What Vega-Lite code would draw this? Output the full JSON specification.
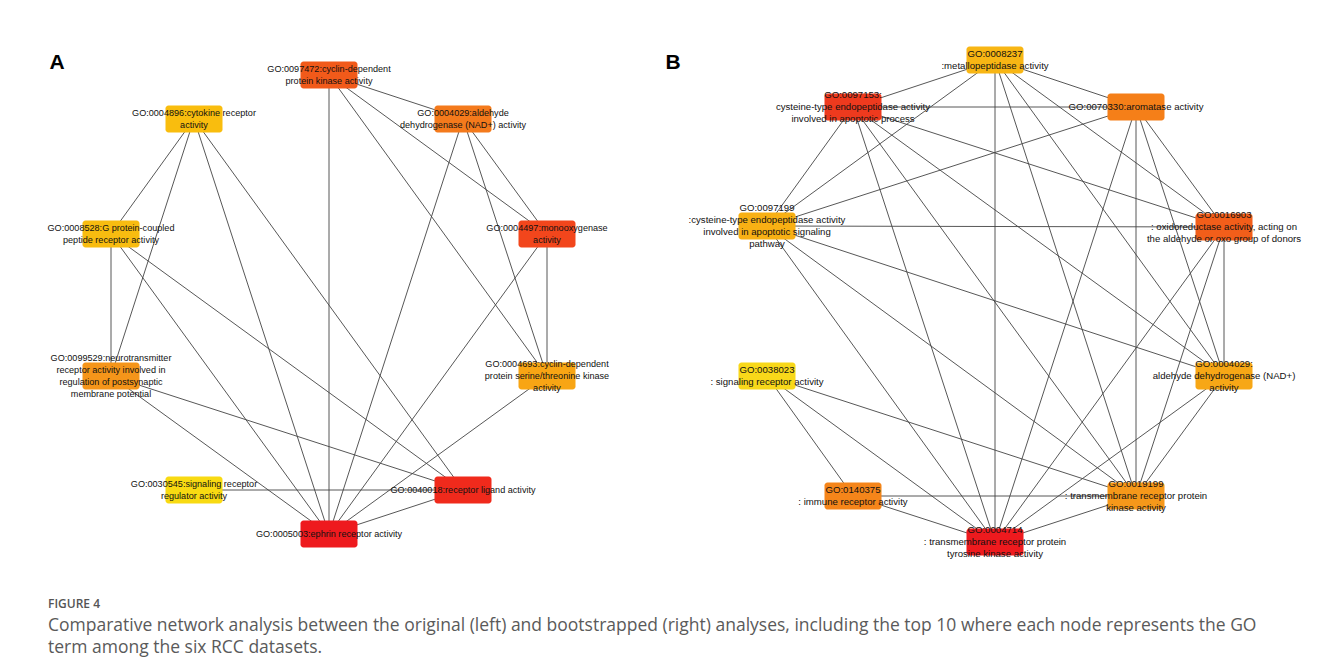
{
  "$schema": "https://vega.github.io/schema/vega-lite/v6.json",
  "width": 1320,
  "height": 671,
  "autosize": {"type": "fit", "contains": "padding"},
  "padding": 0,
  "background": "white",
  "config": {"view": {"stroke": null}},
  "datasets": {
    "nodes": [
      {"id": "A-0097472", "panel": "A", "x": 329, "y": 75, "label": "GO:0097472:cyclin-dependent\nprotein kinase activity"},
      {"id": "A-0004896", "panel": "A", "x": 194, "y": 119, "label": "GO:0004896:cytokine receptor\nactivity"},
      {"id": "A-0004029", "panel": "A", "x": 463, "y": 119, "label": "GO:0004029:aldehyde\ndehydrogenase (NAD+) activity"},
      {"id": "A-0008528", "panel": "A", "x": 111, "y": 234, "label": "GO:0008528:G protein-coupled\npeptide receptor activity"},
      {"id": "A-0004497", "panel": "A", "x": 547, "y": 234, "label": "GO:0004497:monooxygenase\nactivity"},
      {"id": "A-0099529", "panel": "A", "x": 111, "y": 376, "label": "GO:0099529:neurotransmitter\nreceptor activity involved in\nregulation of postsynaptic\nmembrane potential"},
      {"id": "A-0004693", "panel": "A", "x": 547, "y": 376, "label": "GO:0004693:cyclin-dependent\nprotein serine/threonine kinase\nactivity"},
      {"id": "A-0030545", "panel": "A", "x": 194, "y": 490, "label": "GO:0030545:signaling receptor\nregulator activity"},
      {"id": "A-0040018", "panel": "A", "x": 463, "y": 490, "label": "GO:0040018:receptor ligand activity"},
      {"id": "A-0005003", "panel": "A", "x": 329, "y": 534, "label": "GO:0005003:ephrin receptor activity"},
      {"id": "B-0008237", "panel": "B", "x": 995, "y": 60, "label": "GO:0008237\n:metallopeptidase activity"},
      {"id": "B-0097153", "panel": "B", "x": 853, "y": 107, "label": "GO:0097153:\ncysteine-type endopeptidase activity\ninvolved in apoptotic process"},
      {"id": "B-0070330", "panel": "B", "x": 1136, "y": 107, "label": "GO:0070330:aromatase activity"},
      {"id": "B-0097199", "panel": "B", "x": 767, "y": 226, "label": "GO:0097199\n:cysteine-type endopeptidase activity\ninvolved in apoptotic signaling\npathway"},
      {"id": "B-0016903", "panel": "B", "x": 1224, "y": 227, "label": "GO:0016903\n: oxidoreductase activity, acting on\nthe aldehyde or oxo group of donors"},
      {"id": "B-0038023", "panel": "B", "x": 767, "y": 376, "label": "GO:0038023\n: signaling receptor activity"},
      {"id": "B-0004029", "panel": "B", "x": 1224, "y": 376, "label": "GO:0004029:\naldehyde dehydrogenase (NAD+)\nactivity"},
      {"id": "B-0140375", "panel": "B", "x": 853, "y": 496, "label": "GO:0140375\n: immune receptor activity"},
      {"id": "B-0019199", "panel": "B", "x": 1136, "y": 496, "label": "GO:0019199\n: transmembrane receptor protein\nkinase activity"},
      {"id": "B-0004714", "panel": "B", "x": 995, "y": 542, "label": "GO:0004714\n: transmembrane receptor protein\ntyrosine kinase activity"}
    ],
    "edges": [
      {"s": "A-0097472", "t": "A-0004029"},
      {"s": "A-0097472", "t": "A-0005003"},
      {"s": "A-0097472", "t": "A-0004693"},
      {"s": "A-0097472", "t": "A-0004497"},
      {"s": "A-0004896", "t": "A-0008528"},
      {"s": "A-0004896", "t": "A-0099529"},
      {"s": "A-0004896", "t": "A-0005003"},
      {"s": "A-0004896", "t": "A-0040018"},
      {"s": "A-0004029", "t": "A-0005003"},
      {"s": "A-0004029", "t": "A-0004693"},
      {"s": "A-0004029", "t": "A-0004497"},
      {"s": "A-0008528", "t": "A-0099529"},
      {"s": "A-0008528", "t": "A-0005003"},
      {"s": "A-0008528", "t": "A-0040018"},
      {"s": "A-0004497", "t": "A-0004693"},
      {"s": "A-0004497", "t": "A-0005003"},
      {"s": "A-0099529", "t": "A-0040018"},
      {"s": "A-0099529", "t": "A-0005003"},
      {"s": "A-0004693", "t": "A-0005003"},
      {"s": "A-0030545", "t": "A-0040018"},
      {"s": "A-0040018", "t": "A-0005003"},
      {"s": "B-0008237", "t": "B-0097153"},
      {"s": "B-0008237", "t": "B-0070330"},
      {"s": "B-0008237", "t": "B-0097199"},
      {"s": "B-0008237", "t": "B-0016903"},
      {"s": "B-0008237", "t": "B-0004029"},
      {"s": "B-0008237", "t": "B-0019199"},
      {"s": "B-0008237", "t": "B-0004714"},
      {"s": "B-0097153", "t": "B-0070330"},
      {"s": "B-0097153", "t": "B-0097199"},
      {"s": "B-0097153", "t": "B-0016903"},
      {"s": "B-0097153", "t": "B-0004029"},
      {"s": "B-0097153", "t": "B-0019199"},
      {"s": "B-0097153", "t": "B-0004714"},
      {"s": "B-0070330", "t": "B-0097199"},
      {"s": "B-0070330", "t": "B-0016903"},
      {"s": "B-0070330", "t": "B-0004029"},
      {"s": "B-0070330", "t": "B-0019199"},
      {"s": "B-0070330", "t": "B-0004714"},
      {"s": "B-0097199", "t": "B-0016903"},
      {"s": "B-0097199", "t": "B-0004029"},
      {"s": "B-0097199", "t": "B-0019199"},
      {"s": "B-0097199", "t": "B-0004714"},
      {"s": "B-0016903", "t": "B-0004029"},
      {"s": "B-0016903", "t": "B-0019199"},
      {"s": "B-0016903", "t": "B-0004714"},
      {"s": "B-0004029", "t": "B-0019199"},
      {"s": "B-0004029", "t": "B-0004714"},
      {"s": "B-0019199", "t": "B-0004714"},
      {"s": "B-0038023", "t": "B-0140375"},
      {"s": "B-0038023", "t": "B-0004714"},
      {"s": "B-0038023", "t": "B-0019199"},
      {"s": "B-0140375", "t": "B-0019199"},
      {"s": "B-0140375", "t": "B-0004714"}
    ],
    "letters": [
      {"letter": "A", "x": 57, "y": 63},
      {"letter": "B", "x": 673, "y": 63}
    ],
    "caption": [
      {"line": "Comparative network analysis between the original (left) and bootstrapped (right) analyses, including the top 10 where each node represents the GO", "x": 48, "y": 626},
      {"line": "term among the six RCC datasets.", "x": 48, "y": 648}
    ],
    "title": [
      {"line": "FIGURE 4", "x": 48, "y": 604}
    ]
  },
  "encoding": {
    "x": {"type": "quantitative", "scale": {"domain": [0, 1320], "nice": false, "zero": false}, "axis": null},
    "y": {"type": "quantitative", "scale": {"domain": [0, 671], "nice": false, "zero": false, "reverse": true}, "axis": null}
  },
  "layer": [
    {
      "mark": {"type": "rule", "color": "#d4d4d4", "strokeWidth": 1.5},
      "encoding": {"x": {"datum": 8.5}, "x2": {"datum": 1320}, "y": {"datum": 10}}
    },
    {
      "mark": {"type": "rule", "color": "#d4d4d4", "strokeWidth": 1.5},
      "encoding": {"x": {"datum": 8.5}, "y": {"datum": 10}, "y2": {"datum": 671}}
    },
    {
      "data": {"name": "edges"},
      "transform": [
        {"lookup": "s", "from": {"data": {"name": "nodes"}, "key": "id", "fields": ["x", "y"]}, "as": ["sx", "sy"]},
        {"lookup": "t", "from": {"data": {"name": "nodes"}, "key": "id", "fields": ["x", "y"]}, "as": ["tx", "ty"]}
      ],
      "mark": {"type": "rule", "color": "#444444", "strokeWidth": 0.9},
      "encoding": {
        "x": {"field": "sx", "type": "quantitative"},
        "y": {"field": "sy", "type": "quantitative"},
        "x2": {"field": "tx"},
        "y2": {"field": "ty"}
      }
    },
    {
      "data": {"name": "nodes"},
      "mark": {"type": "rect", "width": 57, "height": 27, "cornerRadius": 3},
      "encoding": {
        "x": {"field": "x", "type": "quantitative"},
        "y": {"field": "y", "type": "quantitative"},
        "color": {
          "field": "id", "type": "nominal", "legend": null,
          "scale": {
            "domain": ["A-0097472", "A-0004896", "A-0004029", "A-0008528", "A-0004497", "A-0099529", "A-0004693", "A-0030545", "A-0040018", "A-0005003", "B-0008237", "B-0097153", "B-0070330", "B-0097199", "B-0016903", "B-0038023", "B-0004029", "B-0140375", "B-0019199", "B-0004714"],
            "range": ["#f15a1a", "#f9bd0e", "#f47a1c", "#f8bc10", "#f2461c", "#f5951a", "#f8a514", "#f8da12", "#f02a1c", "#ee1a1e", "#f8b614", "#ee3a1e", "#f57f18", "#f8b014", "#f25e1a", "#f8d81a", "#f7a716", "#f5851a", "#f6981a", "#ee1a1e"]
          }
        }
      }
    },
    {
      "data": {"name": "nodes"},
      "transform": [{"filter": "length(split(datum.label, '\\n')) == 1"}],
      "mark": {"type": "text", "font": "Liberation Sans", "lineHeight": 11.8, "lineBreak": "\n", "align": "center", "baseline": "middle", "color": "#111111", "dy": 0},
      "encoding": {
        "x": {"field": "x", "type": "quantitative"},
        "y": {"field": "y", "type": "quantitative"},
        "size": {"condition": {"test": "datum.panel == 'A'", "value": 9.1}, "value": 9.6},
        "text": {"field": "label"}
      }
    },
    {
      "data": {"name": "nodes"},
      "transform": [{"filter": "length(split(datum.label, '\\n')) == 2"}],
      "mark": {"type": "text", "font": "Liberation Sans", "lineHeight": 11.8, "lineBreak": "\n", "align": "center", "baseline": "middle", "color": "#111111", "dy": -5.9},
      "encoding": {
        "x": {"field": "x", "type": "quantitative"},
        "y": {"field": "y", "type": "quantitative"},
        "size": {"condition": {"test": "datum.panel == 'A'", "value": 9.1}, "value": 9.6},
        "text": {"field": "label"}
      }
    },
    {
      "data": {"name": "nodes"},
      "transform": [{"filter": "length(split(datum.label, '\\n')) == 3"}],
      "mark": {"type": "text", "font": "Liberation Sans", "lineHeight": 11.8, "lineBreak": "\n", "align": "center", "baseline": "middle", "color": "#111111", "dy": -11.8},
      "encoding": {
        "x": {"field": "x", "type": "quantitative"},
        "y": {"field": "y", "type": "quantitative"},
        "size": {"condition": {"test": "datum.panel == 'A'", "value": 9.1}, "value": 9.6},
        "text": {"field": "label"}
      }
    },
    {
      "data": {"name": "nodes"},
      "transform": [{"filter": "length(split(datum.label, '\\n')) == 4"}],
      "mark": {"type": "text", "font": "Liberation Sans", "lineHeight": 11.8, "lineBreak": "\n", "align": "center", "baseline": "middle", "color": "#111111", "dy": -17.7},
      "encoding": {
        "x": {"field": "x", "type": "quantitative"},
        "y": {"field": "y", "type": "quantitative"},
        "size": {"condition": {"test": "datum.panel == 'A'", "value": 9.1}, "value": 9.6},
        "text": {"field": "label"}
      }
    },
    {
      "data": {"name": "letters"},
      "mark": {"type": "text", "font": "Liberation Sans", "fontSize": 21, "fontWeight": "bold", "align": "center", "baseline": "middle", "color": "#000000"},
      "encoding": {
        "x": {"field": "x", "type": "quantitative"},
        "y": {"field": "y", "type": "quantitative"},
        "text": {"field": "letter"}
      }
    },
    {
      "data": {"name": "title"},
      "mark": {"type": "text", "font": "Open Sans", "fontSize": 12, "fontWeight": 600, "align": "left", "baseline": "middle", "color": "#555555"},
      "encoding": {
        "x": {"field": "x", "type": "quantitative"},
        "y": {"field": "y", "type": "quantitative"},
        "text": {"field": "line"}
      }
    },
    {
      "data": {"name": "caption"},
      "mark": {"type": "text", "font": "Open Sans", "fontSize": 17.5, "align": "left", "baseline": "middle", "color": "#5a5a5a"},
      "encoding": {
        "x": {"field": "x", "type": "quantitative"},
        "y": {"field": "y", "type": "quantitative"},
        "text": {"field": "line"}
      }
    }
  ]
}
